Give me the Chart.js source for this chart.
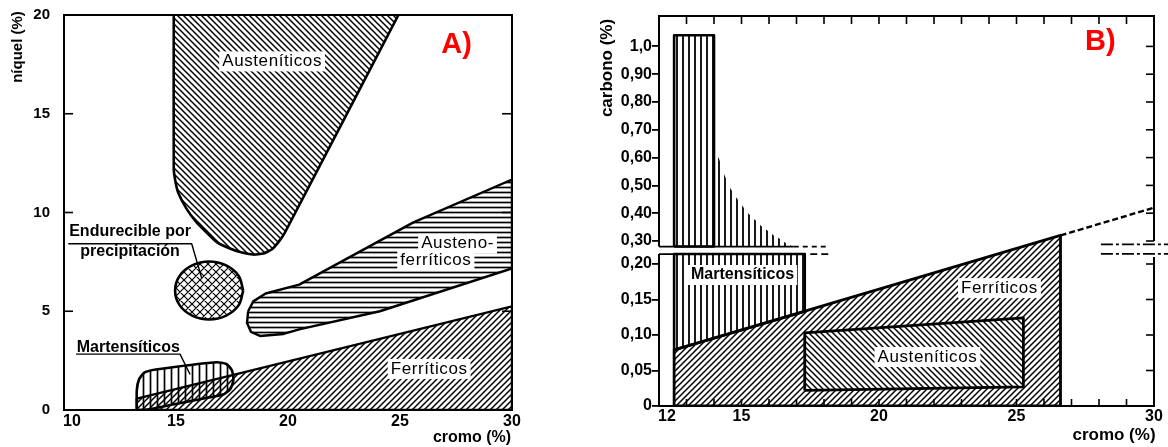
<!DOCTYPE html>
<html>
<head>
<meta charset="utf-8">
<script src="https://cdn.jsdelivr.net/npm/chart.js@4.4.1/dist/chart.umd.min.js"></script>
<style>
  body { margin: 0; background: #fff; }
  #wrap { position: relative; width: 1168px; height: 447px; overflow: hidden; }
  #chartA { position: absolute; left: 0; top: 0; }
  #chartB { position: absolute; left: 560px; top: 0; }
</style>
</head>
<body>
<div id="wrap">
  <canvas id="chartA" width="560" height="447"></canvas>
  <canvas id="chartB" width="608" height="447"></canvas>
</div>
<script>
const FONT = "'Liberation Sans', Arial, sans-serif";

// ---------- A) níquel (%) vs cromo (%)
const cromoTicksA = [10, 15, 20, 25, 30];
const niquelTicksA = [0, 5, 10, 15, 20];

const austeniticosCr = [14.9, 14.9, 14.97, 15.1, 15.48, 15.92, 16.4, 16.82, 17.35, 17.86, 18.45, 18.9, 19.3, 19.64, 19.87, 24.93];
const austeniticosNi = [20, 12.2, 11.6, 11.0, 10.17, 9.5, 8.95, 8.5, 8.2, 8.0, 7.87, 7.92, 8.15, 8.6, 9.0, 20];

const austenoCr = [18.22, 18.45, 19.0, 20.5, 25.6, 30, 30, 24.1, 20.5, 19.8, 18.75, 18.35, 18.17, 18.22];
const austenoNi = [5.0, 5.5, 5.9, 6.35, 9.5, 11.67, 7.17, 5.0, 4.08, 3.85, 3.75, 3.95, 4.4, 5.0];

const endurecibleCr = [18.0, 17.8, 17.24, 16.48, 15.72, 15.16, 14.96, 15.16, 15.72, 16.48, 17.24, 17.8, 18.0];
const endurecibleNi = [6.05, 6.79, 7.32, 7.52, 7.32, 6.79, 6.05, 5.31, 4.78, 4.58, 4.78, 5.31, 6.05];

const martensiticosCr = [13.25, 13.25, 13.35, 13.6, 14.1, 16.8, 17.25, 17.5, 17.56, 17.42, 17.1, 15.5, 14.0, 13.5, 13.25];
const martensiticosNi = [0, 1.0, 1.55, 1.9, 2.05, 2.42, 2.33, 2.0, 1.5, 1.05, 0.78, 0.42, 0.08, 0, 0];

const ferriticosCr = [13.25, 13.25, 30, 30, 13.25];
const ferriticosNi = [0, 0.58, 5.25, 0, 0];

const leaderEndurecibleCr = [10.19, 15.7, 16.15];
const leaderEndurecibleNi = [8.42, 8.42, 6.67];
const leaderMartensiticosCr = [10.54, 15.18, 15.63];
const leaderMartensiticosNi = [2.83, 2.83, 1.8];

// ---------- B) carbono (%) vs cromo (%)
const cromoTicksB = [12, 15, 20, 25, 30];
const cromoMinorB = [13, 14, 15, 16, 17, 18, 19, 20, 21, 22, 23, 24, 25, 26, 27, 28, 29];
const carbonoTicksB = [0, 0.05, 0.10, 0.15, 0.20, 0.30, 0.40, 0.50, 0.60, 0.70, 0.80, 0.90, 1.0];
const carbonoLabelsB = ['0', '0,05', '0,10', '0,15', '0,20', '0,30', '0,40', '0,50', '0,60', '0,70', '0,80', '0,90', '1,0'];
const breakLow = 0.214;
const breakHigh = 0.28;

const martUpperCr = [12.55, 12.55, 14.0, 14.0, 12.55];
const martUpperC = [0.28, 1.04, 1.04, 0.28, 0.28];
const martTailCr = [14.0, 14.0, 14.18, 14.38, 14.56, 14.77, 14.96, 15.17, 15.36, 15.57, 15.77, 15.97, 16.15, 16.36, 16.54, 16.71, 16.9];
const martTailC = [0.28, 0.62, 0.597, 0.537, 0.495, 0.462, 0.436, 0.408, 0.387, 0.369, 0.349, 0.336, 0.322, 0.31, 0.297, 0.286, 0.28];
const martLowerCr = [12.55, 12.55, 17.3, 17.3, 12.55];
const martLowerC = [0.214, 0.079, 0.133, 0.214, 0.214];

const ferriticosBCr = [12.55, 12.55, 26.6, 26.6, 12.55];
const ferriticosBC = [0, 0.079, 0.32, 0, 0];
const ferriticosExtCr = [26.6, 30];
const ferriticosExtC = [0.32, 0.42];

const austeniticosBCr = [17.3, 17.3, 25.25, 25.25, 17.3];
const austeniticosBC = [0.022, 0.103, 0.124, 0.027, 0.022];

const breakSolidHighCr = [12, 16.9];
const breakDashHighCr = [16.9, 18.2];
const breakSolidLowCr = [12, 17.3];
const breakDashLowCr = [17.5, 18.2];
const breakRightCr = [28.07, 30.55];
const breakRightC = [0.288, 0.216];

// broken carbon axis: two linear pieces joined across the break
function toAxis(c) {
  const lowV = breakLow * 710;
  const highV = 165 + (breakHigh - 0.30) * 278;
  if (c <= breakLow) return c * 710;
  if (c >= breakHigh) return 165 + (c - 0.30) * 278;
  return lowV + (c - breakLow) / (breakHigh - breakLow) * (highV - lowV);
}

// ---------- hatch patterns
function makePattern(w, h, lw, draw, bg) {
  const c = document.createElement('canvas');
  c.width = w; c.height = h;
  const g = c.getContext('2d');
  if (bg) { g.fillStyle = bg; g.fillRect(0, 0, w, h); }
  g.strokeStyle = '#000';
  g.lineWidth = lw;
  g.beginPath();
  draw(g, w, h);
  g.stroke();
  return g.createPattern(c, 'repeat');
}
const fwd = (g, s) => { g.moveTo(-1, s + 1); g.lineTo(s + 1, -1); g.moveTo(-1, 1); g.lineTo(1, -1); g.moveTo(s - 1, s + 1); g.lineTo(s + 1, s - 1); };
const back = (g, s) => { g.moveTo(-1, -1); g.lineTo(s + 1, s + 1); g.moveTo(-1, s - 1); g.lineTo(1, s + 1); g.moveTo(s - 1, -1); g.lineTo(s + 1, 1); };

const hatchFwdA = makePattern(6, 6, 1.5, fwd);
const hatchBackA = makePattern(6, 6, 1.5, back);
const hatchHoriz = makePattern(4, 5, 1.7, (g, w, h) => { g.moveTo(0, 2.5); g.lineTo(w, 2.5); });
const crossHatch = makePattern(8, 8, 1.2, (g, s) => { fwd(g, s); back(g, s); });
const vertA = makePattern(7, 4, 1.7, (g, w, h) => { g.moveTo(3.5, 0); g.lineTo(3.5, h); });
const vertB = makePattern(6, 4, 1.8, (g, w, h) => { g.moveTo(3, 0); g.lineTo(3, h); });
const hatchFwdB = makePattern(6, 6, 1.5, fwd);
const hatchBackB = makePattern(6, 6, 1.5, back, '#fff');

function shape(xs, ys, pattern, width, tension, mapY, extra) {
  return Object.assign({
    data: xs.map((x, i) => ({ x: x, y: mapY ? mapY(ys[i]) : ys[i] })),
    fill: pattern ? 'shape' : false,
    backgroundColor: pattern || 'rgba(0,0,0,0)',
    borderColor: width ? '#000' : 'rgba(0,0,0,0)',
    borderWidth: width,
    tension: tension || 0,
    pointRadius: 0,
    borderJoinStyle: 'round',
    borderCapStyle: 'butt'
  }, extra || {});
}

function label(ctx, text, x, y, font, box, spacing, color) {
  ctx.save();
  ctx.font = font;
  if ('letterSpacing' in ctx) ctx.letterSpacing = (spacing || 0) + 'px';
  ctx.textAlign = 'center';
  ctx.textBaseline = 'middle';
  if (box) {
    const w = ctx.measureText(text).width;
    ctx.fillStyle = '#fff';
    ctx.fillRect(x - w / 2 - 3, y - 10, w + 6, 20);
  }
  ctx.fillStyle = color || '#000';
  ctx.fillText(text, x, y);
  ctx.restore();
}

function seg(ctx, x1, y1, x2, y2) {
  ctx.beginPath(); ctx.moveTo(x1, y1); ctx.lineTo(x2, y2); ctx.stroke();
}

// ---------- chart A
const decorA = {
  id: 'decorA',
  afterDatasetsDraw(chart) {
    const ctx = chart.ctx, x = chart.scales.x, y = chart.scales.y;
    const reg = FONT;
    label(ctx, 'Austeníticos', x.getPixelForValue(19.29), y.getPixelForValue(17.65), '17px ' + reg, true, 0.6);
    label(ctx, 'Austeno-', x.getPixelForValue(27.57), y.getPixelForValue(8.42), '17px ' + reg, true, 0.6);
    label(ctx, 'ferríticos', x.getPixelForValue(26.6), y.getPixelForValue(7.58), '17px ' + reg, true, 0.6);
    label(ctx, 'Ferríticos', x.getPixelForValue(26.3), y.getPixelForValue(2.08), '17px ' + reg, true, 0.6);
    label(ctx, 'Endurecible por', x.getPixelForValue(12.95), y.getPixelForValue(9.05), 'bold 16px ' + reg, false);
    label(ctx, 'precipitación', x.getPixelForValue(12.95), y.getPixelForValue(8.0), 'bold 16px ' + reg, false);
    label(ctx, 'Martensíticos', x.getPixelForValue(12.87), y.getPixelForValue(3.17), 'bold 16px ' + reg, false);
    label(ctx, 'A)', x.getPixelForValue(27.53), y.getPixelForValue(18.5), 'bold 29px ' + reg, false, 0, '#ff0000');
  },
  afterDraw(chart) {
    const ctx = chart.ctx, a = chart.chartArea, x = chart.scales.x, y = chart.scales.y;
    ctx.save();
    ctx.strokeStyle = '#000';
    ctx.lineWidth = 2;
    ctx.strokeRect(a.left, a.top, a.right - a.left, a.bottom - a.top);
    ctx.lineWidth = 1.6;
    [5, 10, 15].forEach(v => {
      const py = y.getPixelForValue(v);
      seg(ctx, a.left, py, a.left + 9, py);
      seg(ctx, a.right, py, a.right - 10, py);
    });
    ctx.fillStyle = '#000';
    ctx.font = 'bold 16px ' + FONT;
    ctx.textAlign = 'center';
    ctx.textBaseline = 'middle';
    cromoTicksA.forEach((v, i) => ctx.fillText(String(v), x.getPixelForValue(v) + (i === 0 ? 8 : 0), 422));
    ctx.fillText('cromo (%)', 472, 438);
    ctx.font = 'bold 15px ' + FONT;
    ctx.translate(18, 47);
    ctx.rotate(-Math.PI / 2);
    ctx.fillText('níquel (%)', 0, 0);
    ctx.restore();
  }
};

new Chart(document.getElementById('chartA'), {
  type: 'line',
  data: {
    datasets: [
      shape(leaderEndurecibleCr, leaderEndurecibleNi, null, 1.4),
      shape(leaderMartensiticosCr, leaderMartensiticosNi, null, 1.4),
      shape(endurecibleCr, endurecibleNi, crossHatch, 2.6, 0.35),
      shape(martensiticosCr, martensiticosNi, vertA, 2.6, 0.2),
      shape(austenoCr, austenoNi, hatchHoriz, 2.4),
      shape(austeniticosCr, austeniticosNi, hatchBackA, 2.6, 0.15),
      shape(ferriticosCr, ferriticosNi, hatchFwdA, 2.4)
    ]
  },
  options: {
    responsive: false,
    animation: false,
    layout: { padding: { left: 0, right: 48, top: 10, bottom: 37 } },
    plugins: { legend: { display: false }, tooltip: { enabled: false } },
    scales: {
      x: { type: 'linear', min: 10, max: 30, display: false },
      y: {
        type: 'linear', min: 0, max: 20,
        afterFit(s) { s.width = 64; },
        grid: { display: false },
        border: { display: false },
        ticks: { stepSize: 5, padding: 6, color: '#000', font: { family: FONT, size: 15, weight: 'bold' } }
      }
    }
  },
  plugins: [decorA]
});

// ---------- chart B
const decorB = {
  id: 'decorB',
  afterDatasetsDraw(chart) {
    const ctx = chart.ctx, x = chart.scales.x, y = chart.scales.y;
    const px = v => x.getPixelForValue(v), py = c => y.getPixelForValue(toAxis(c));
    label(ctx, 'Martensíticos', px(15.04), py(0.1845), 'bold 16px ' + FONT, true);
    label(ctx, 'Ferríticos', px(24.38), py(0.166), '17px ' + FONT, true, 0.6);
    label(ctx, 'Austeníticos', px(21.76), py(0.069), '17px ' + FONT, true, 0.6);
    label(ctx, 'B)', px(28.05), py(1.016), 'bold 29px ' + FONT, false, 0, '#ff0000');
  },
  afterDraw(chart) {
    const ctx = chart.ctx, a = chart.chartArea, x = chart.scales.x, y = chart.scales.y;
    const py = c => y.getPixelForValue(toAxis(c));
    ctx.save();
    ctx.strokeStyle = '#000';
    ctx.lineWidth = 2;
    seg(ctx, a.left - 1, a.top, a.right + 1, a.top);
    seg(ctx, a.left - 1, a.bottom, a.right + 1, a.bottom);
    seg(ctx, a.left, a.bottom, a.left, py(breakLow));
    seg(ctx, a.left, py(breakHigh), a.left, a.top);
    seg(ctx, a.right, a.bottom, a.right, py(0.21));
    seg(ctx, a.right, py(0.30), a.right, a.top);
    ctx.lineWidth = 1.6;
    cromoMinorB.forEach(v => {
      const p = x.getPixelForValue(v);
      seg(ctx, p, a.top, p, a.top + 8);
      seg(ctx, p, a.bottom, p, a.bottom - 7);
    });
    carbonoTicksB.slice(1).forEach(c => seg(ctx, a.right, py(c), a.right - 8, py(c)));
    ctx.fillStyle = '#000';
    ctx.font = 'bold 16px ' + FONT;
    ctx.textAlign = 'center';
    ctx.textBaseline = 'middle';
    cromoTicksB.forEach((v, i) => ctx.fillText(String(v), x.getPixelForValue(v) + (i === 0 ? 8 : 0), 417));
    ctx.font = 'bold 17px ' + FONT;
    ctx.fillText('cromo (%)', 1114 - 560, 435);
    ctx.translate(607 - 560, 68);
    ctx.rotate(-Math.PI / 2);
    ctx.fillText('carbono (%)', 0, 0);
    ctx.restore();
  }
};

const flat = (xs, c) => xs.map(() => c);

new Chart(document.getElementById('chartB'), {
  type: 'line',
  data: {
    datasets: [
      shape(martUpperCr, martUpperC, vertB, 2.6, 0, toAxis),
      shape(martTailCr, martTailC, vertB, 0, 0, toAxis),
      shape(martLowerCr, martLowerC, vertB, 2.6, 0, toAxis),
      shape(austeniticosBCr, austeniticosBC, hatchBackB, 2.8, 0, toAxis),
      shape(ferriticosBCr, ferriticosBC, hatchFwdB, 2.8, 0, toAxis),
      shape(ferriticosExtCr, ferriticosExtC, null, 2.4, 0, toAxis, { borderDash: [6, 3] }),
      shape(breakSolidHighCr, flat(breakSolidHighCr, breakHigh), null, 1.8, 0, toAxis),
      shape(breakDashHighCr, flat(breakDashHighCr, breakHigh), null, 1.8, 0, toAxis, { borderDash: [5, 4] }),
      shape(breakSolidLowCr, flat(breakSolidLowCr, breakLow), null, 1.8, 0, toAxis),
      shape(breakDashLowCr, flat(breakDashLowCr, breakLow), null, 1.8, 0, toAxis, { borderDash: [7, 4] }),
      shape(breakRightCr, flat(breakRightCr, breakRightC[0]), null, 1.8, 0, toAxis, { borderDash: [12, 3, 3, 3], clip: false }),
      shape(breakRightCr, flat(breakRightCr, breakRightC[1]), null, 1.8, 0, toAxis, { borderDash: [12, 3, 3, 3], clip: false })
    ]
  },
  options: {
    responsive: false,
    animation: false,
    layout: { padding: { left: 0, right: 14, top: 16, bottom: 41 } },
    plugins: { legend: { display: false }, tooltip: { enabled: false } },
    scales: {
      x: { type: 'linear', min: 12, max: 30, display: false },
      y: {
        type: 'linear', min: 0, max: 390,
        afterFit(s) { s.width = 99; },
        afterBuildTicks(s) { s.ticks = carbonoTicksB.map(c => ({ value: toAxis(c) })); },
        grid: { display: true, drawOnChartArea: false, drawTicks: true, tickLength: 7, color: '#000', lineWidth: 1.8 },
        border: { display: false },
        ticks: {
          autoSkip: false, padding: 0, color: '#000',
          font: { family: FONT, size: 16, weight: 'bold' },
          callback: (v, i) => carbonoLabelsB[i]
        }
      }
    }
  },
  plugins: [decorB]
});
</script>
</body>
</html>
